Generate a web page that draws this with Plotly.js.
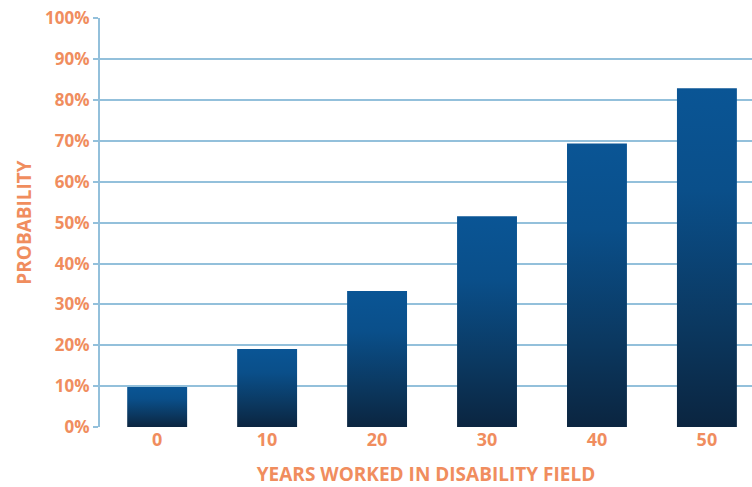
<!DOCTYPE html>
<html>
<head>
<meta charset="utf-8">
<script src="https://cdn.plot.ly/plotly-3.0.1.min.js"></script>
<style>html,body{margin:0;padding:0;background:#fff;}#chart{width:752px;height:487px;}</style>
</head>
<body>
<div id="chart"></div>
<script>
const categories = ['0', '10', '20', '30', '40', '50'];
const probability = [0.098, 0.191, 0.333, 0.516, 0.694, 0.829];
const yTickValues = [0, 0.1, 0.2, 0.3, 0.4, 0.5, 0.6, 0.7, 0.8, 0.9, 1.0];
const yTickLabels = ['0%', '10%', '20%', '30%', '40%', '50%', '60%', '70%', '80%', '90%', '100%'];

const barWidth = 0.545;
const orange = '#f08d5e';
const gridBlue = '#93c0db';
const topBlue = '#0a5595';
const bottomNavy = '#0b2540';

const traces = categories.map((c, i) => {
  const v = probability[i];
  const x0 = i - barWidth / 2, x1 = i + barWidth / 2;
  return {
    type: 'scatter',
    mode: 'lines',
    x: [x0, x1, x1, x0, x0],
    y: [0, 0, v, v, 0],
    fill: 'toself',
    line: {width: 0, color: topBlue},
    fillgradient: {
      type: 'vertical',
      start: 0,
      stop: v,
      colorscale: [[0, bottomNavy], [0.3, '#0b3860'], [0.7, '#0a4f8a'], [1, topBlue]]
    },
    hoverinfo: 'skip',
    showlegend: false
  };
});

const fam = '"Open Sans", "DejaVu Sans", sans-serif';
const tickFontY = {family: fam, size: 17, color: orange, weight: 700};
const tickFontX = {family: fam, size: 18, color: orange, weight: 700};
const titleFont = {family: fam, size: 19, color: orange, weight: 700};

const layout = {
  width: 752, height: 487,
  margin: {l: 100, r: 0, t: 18, b: 60},
  paper_bgcolor: '#ffffff',
  plot_bgcolor: '#ffffff',
  showlegend: false,
  xaxis: {
    range: [-0.52, 5.41],
    tickvals: categories.map((c, i) => i),
    ticktext: categories,
    showgrid: false,
    zeroline: false,
    showline: false,
    ticks: '',
    tickfont: tickFontX,
    title: {text: 'YEARS WORKED IN DISABILITY FIELD', font: titleFont, standoff: 22},
    fixedrange: true
  },
  yaxis: {
    range: [0, 1.001],
    tickvals: yTickValues,
    ticktext: yTickLabels,
    showgrid: true,
    gridcolor: gridBlue,
    gridwidth: 2,
    zeroline: false,
    showline: true,
    linecolor: gridBlue,
    linewidth: 2,
    ticks: 'outside',
    ticklen: 5,
    tickwidth: 2,
    tickcolor: gridBlue,
    tickfont: tickFontY,
    title: {text: 'PROBABILITY', font: titleFont, standoff: 8},
    fixedrange: true
  }
};

Plotly.newPlot('chart', traces, layout, {displayModeBar: false, staticPlot: true});
</script>
</body>
</html>
